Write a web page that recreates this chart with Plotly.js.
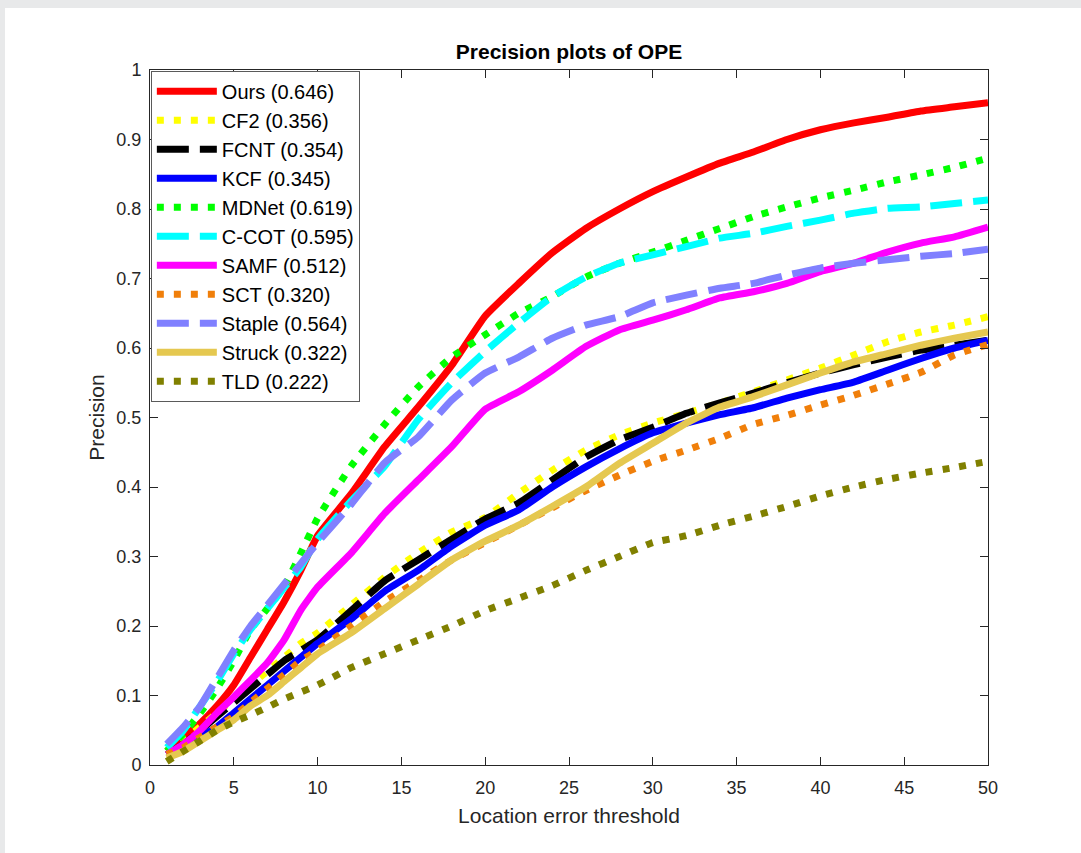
<!DOCTYPE html>
<html>
<head>
<meta charset="utf-8">
<script src="https://cdn.plot.ly/plotly-3.0.1.min.js"></script>
<style>
  html, body { margin: 0; padding: 0; background: #e8e9ea; width: 1081px; height: 853px; overflow: hidden; }
  #chart { position: absolute; left: 5px; top: 8px; width: 1076px; height: 845px; background: #ffffff; }
</style>
</head>
<body>
<div id="chart"></div>
<script>
const thresholds = [1,2,3,4,5,6,7,8,9,10,12,14,16,18,20,22,24,26,28,30,32,34,36,38,40,42,44,46,48,50];

const ours   = [0.02,0.04,0.06,0.085,0.115,0.155,0.195,0.235,0.28,0.33,0.39,0.458,0.515,0.575,0.646,0.693,0.737,0.772,0.8,0.825,0.846,0.866,0.882,0.9,0.914,0.924,0.932,0.941,0.947,0.953];
const cf2    = [0.02,0.035,0.055,0.075,0.095,0.115,0.135,0.155,0.175,0.19,0.23,0.27,0.305,0.335,0.356,0.391,0.424,0.453,0.475,0.492,0.506,0.521,0.537,0.554,0.571,0.59,0.609,0.623,0.633,0.645];
const fcnt   = [0.015,0.03,0.05,0.07,0.09,0.11,0.13,0.15,0.165,0.18,0.222,0.265,0.295,0.325,0.354,0.377,0.41,0.443,0.468,0.486,0.506,0.521,0.535,0.55,0.564,0.576,0.587,0.597,0.604,0.611];
const kcf    = [0.015,0.025,0.04,0.055,0.075,0.095,0.115,0.135,0.155,0.175,0.21,0.25,0.28,0.315,0.345,0.367,0.4,0.429,0.455,0.478,0.492,0.504,0.514,0.528,0.54,0.551,0.568,0.585,0.6,0.611];
const mdnet  = [0.02,0.045,0.075,0.11,0.15,0.195,0.225,0.256,0.305,0.355,0.43,0.49,0.544,0.587,0.619,0.65,0.674,0.702,0.722,0.738,0.755,0.772,0.789,0.803,0.816,0.827,0.839,0.849,0.86,0.873];
const ccot   = [0.025,0.05,0.085,0.12,0.16,0.195,0.225,0.255,0.285,0.325,0.38,0.43,0.497,0.55,0.595,0.636,0.674,0.702,0.722,0.734,0.746,0.758,0.765,0.775,0.784,0.794,0.801,0.803,0.808,0.813];
const samf   = [0.015,0.03,0.05,0.075,0.098,0.122,0.147,0.18,0.223,0.256,0.305,0.362,0.41,0.458,0.512,0.537,0.568,0.602,0.626,0.64,0.655,0.672,0.681,0.693,0.71,0.722,0.738,0.751,0.76,0.774];
const sct    = [0.015,0.025,0.04,0.055,0.07,0.09,0.11,0.13,0.15,0.165,0.2,0.235,0.265,0.295,0.32,0.345,0.37,0.395,0.417,0.437,0.453,0.47,0.49,0.503,0.518,0.532,0.548,0.565,0.59,0.605];
const staple = [0.03,0.055,0.085,0.125,0.165,0.2,0.23,0.26,0.29,0.32,0.375,0.435,0.472,0.525,0.564,0.587,0.614,0.633,0.645,0.665,0.676,0.686,0.693,0.705,0.715,0.722,0.727,0.732,0.736,0.742];
const struck = [0.01,0.02,0.035,0.05,0.065,0.085,0.1,0.12,0.14,0.16,0.19,0.225,0.26,0.295,0.322,0.345,0.372,0.4,0.434,0.463,0.492,0.515,0.53,0.547,0.564,0.58,0.592,0.604,0.614,0.623];
const tld    = [0.005,0.02,0.035,0.05,0.062,0.072,0.083,0.095,0.105,0.115,0.14,0.16,0.18,0.2,0.222,0.24,0.258,0.28,0.3,0.32,0.33,0.345,0.358,0.372,0.387,0.4,0.411,0.42,0.428,0.437];

const names  = ["Ours","CF2","FCNT","KCF","MDNet","C-COT","SAMF","SCT","Staple","Struck","TLD"];
const scores = ["0.646","0.356","0.354","0.345","0.619","0.595","0.512","0.320","0.564","0.322","0.222"];
const series = [ours, cf2, fcnt, kcf, mdnet, ccot, samf, sct, staple, struck, tld];
const colors = ["#ff0000","#ffff00","#000000","#0000ff","#00ff00","#00ffff","#ff00ff","#f07f0a","#8080ff","#e5c850","#808000"];
const styles = ["solid","dot","dash","solid","dot","dash","solid","dot","dash","solid","dot"];

const dashMap = { solid: "solid", dot: "7px,10px", dash: "32px,11px" };

const traces = series.map((vals, i) => ({
  x: thresholds,
  y: vals,
  type: "scatter",
  mode: "lines",
  name: names[i] + " (" + scores[i] + ")",
  line: { color: colors[i], width: 7, dash: dashMap[styles[i]], shape: "spline", smoothing: 0.4 },
  hoverinfo: "skip"
}));

const axisColor = "#262626";
const fontFam = "Liberation Sans, Arial, Helvetica, sans-serif";

const layout = {
  width: 1076,
  height: 845,
  paper_bgcolor: "#ffffff",
  plot_bgcolor: "#ffffff",
  margin: { l: 145, r: 93, t: 62, b: 88, pad: 0 },
  font: { family: fontFam, size: 18, color: axisColor },
  title: {
    text: "<b>Precision plots of OPE</b>",
    font: { family: fontFam, size: 21, color: "#000000" },
    x: 0.5, xref: "paper", xanchor: "center",
    y: 1 - 44 / 845, yref: "container", yanchor: "middle"
  },
  xaxis: {
    range: [0, 50], dtick: 5, tick0: 0,
    showline: true, mirror: "ticks", linecolor: axisColor, linewidth: 1,
    ticks: "inside", ticklen: 8, tickcolor: axisColor, tickwidth: 1,
    showgrid: false, zeroline: false,
    tickfont: { family: fontFam, size: 18, color: axisColor },
    ticklabelstandoff: 6,
    title: { text: "Location error threshold", font: { family: fontFam, size: 21, color: axisColor }, standoff: 11 }
  },
  yaxis: {
    range: [0, 1], dtick: 0.1, tick0: 0,
    showline: true, mirror: "ticks", linecolor: axisColor, linewidth: 1,
    ticks: "inside", ticklen: 8, tickcolor: axisColor, tickwidth: 1,
    showgrid: false, zeroline: false,
    tickfont: { family: fontFam, size: 18, color: axisColor },
    ticklabelstandoff: 4,
    title: { text: "Precision", font: { family: fontFam, size: 21, color: axisColor }, standoff: 6 }
  },
  showlegend: true,
  legend: {
    x: 0.001, y: 0.999, xanchor: "left", yanchor: "top",
    bgcolor: "#ffffff", bordercolor: "#5a5a5a", borderwidth: 1,
    font: { family: fontFam, size: 20, color: "#000000" },
    itemwidth: 60, itemclick: false, itemdoubleclick: false
  }
};

Plotly.newPlot("chart", traces, layout, { displayModeBar: false, staticPlot: true });
</script>
</body>
</html>
